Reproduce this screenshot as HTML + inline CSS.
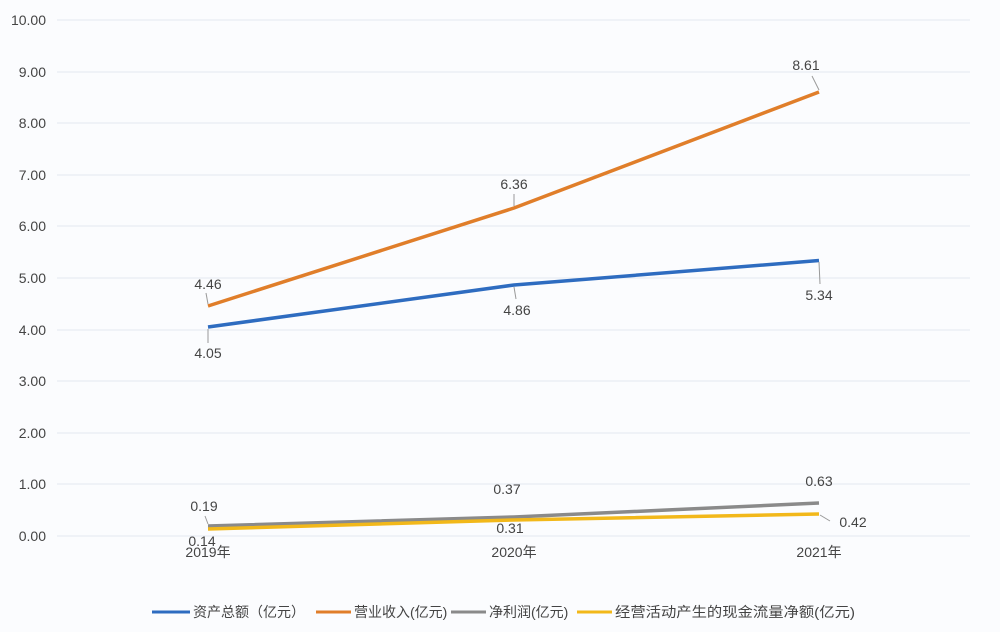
<!DOCTYPE html>
<html><head><meta charset="utf-8"><style>
body{margin:0;background:#fbfcfe;}
svg{display:block;font-family:"Liberation Sans","Noto Sans CJK SC",sans-serif;}
</style></head><body>
<svg width="1000" height="632" viewBox="0 0 1000 632">
<rect width="1000" height="632" fill="#fbfcfe"/>
<g stroke="#e3e8f0" stroke-width="1">
<line x1="57" x2="970" y1="20" y2="20"/><line x1="57" x2="970" y1="72" y2="72"/>
<line x1="57" x2="970" y1="123" y2="123"/><line x1="57" x2="970" y1="175" y2="175"/>
<line x1="57" x2="970" y1="226" y2="226"/><line x1="57" x2="970" y1="278" y2="278"/>
<line x1="57" x2="970" y1="330" y2="330"/><line x1="57" x2="970" y1="381" y2="381"/>
<line x1="57" x2="970" y1="433" y2="433"/><line x1="57" x2="970" y1="484" y2="484"/>
<line x1="57" x2="970" y1="536" y2="536"/>
</g>
<g font-size="14" fill="#444" text-anchor="end">
<text x="46" y="25">10.00</text><text x="46" y="77">9.00</text><text x="46" y="128">8.00</text>
<text x="46" y="180">7.00</text><text x="46" y="231">6.00</text><text x="46" y="283">5.00</text>
<text x="46" y="335">4.00</text><text x="46" y="386">3.00</text><text x="46" y="438">2.00</text>
<text x="46" y="489">1.00</text><text x="46" y="541">0.00</text>
</g>
<g font-size="14" fill="#444" text-anchor="middle">
<text x="208" y="557">2019年</text><text x="514" y="557">2020年</text><text x="819" y="557">2021年</text>
</g>
<g fill="none" stroke-width="3.5" stroke-linejoin="round">
<polyline stroke="#2e6cc0" points="208,327 514,285 819,260.5"/>
<polyline stroke="#e07e2a" points="208,306 514,208 819,92"/>
<polyline stroke="#8a8a8a" points="208,526 514,517 819,503"/>
<polyline stroke="#f2b81a" points="208,529 514,520 819,514"/>
</g>
<g font-size="14" fill="#444" text-anchor="middle">
<text x="208" y="289">4.46</text><text x="514" y="189">6.36</text><text x="806" y="70">8.61</text>
<text x="208" y="358">4.05</text><text x="517" y="315">4.86</text><text x="819" y="300">5.34</text>
<text x="204" y="511">0.19</text><text x="507" y="494">0.37</text><text x="819" y="486">0.63</text>
<text x="202" y="546">0.14</text><text x="510" y="533">0.31</text><text x="853" y="527">0.42</text>
</g>
<g stroke="#999" stroke-width="1" fill="none">
<path d="M206,293 L208,304"/><path d="M514,194 L514,206"/><path d="M812,76 L819,90"/>
<path d="M208,329 L208,343"/><path d="M514,287 L516,299"/><path d="M819,262 L820,284"/>
<path d="M205,516 L208,524"/><path d="M820,515 L830,521"/>
</g>
<g font-size="14" fill="#444">
<line x1="152" x2="190" y1="612" y2="612" stroke="#2e6cc0" stroke-width="3"/>
<text x="193" y="617">资产总额（亿元）</text>
<line x1="316" x2="351" y1="612" y2="612" stroke="#e07e2a" stroke-width="3"/>
<text x="354" y="617">营业收入(亿元)</text>
<line x1="451" x2="486" y1="612" y2="612" stroke="#8a8a8a" stroke-width="3"/>
<text x="489" y="617">净利润(亿元)</text>
<line x1="577" x2="612" y1="612" y2="612" stroke="#f2b81a" stroke-width="3"/>
<text x="615" y="617" textLength="240" lengthAdjust="spacingAndGlyphs">经营活动产生的现金流量净额(亿元)</text>
</g>
</svg>
</body></html>
